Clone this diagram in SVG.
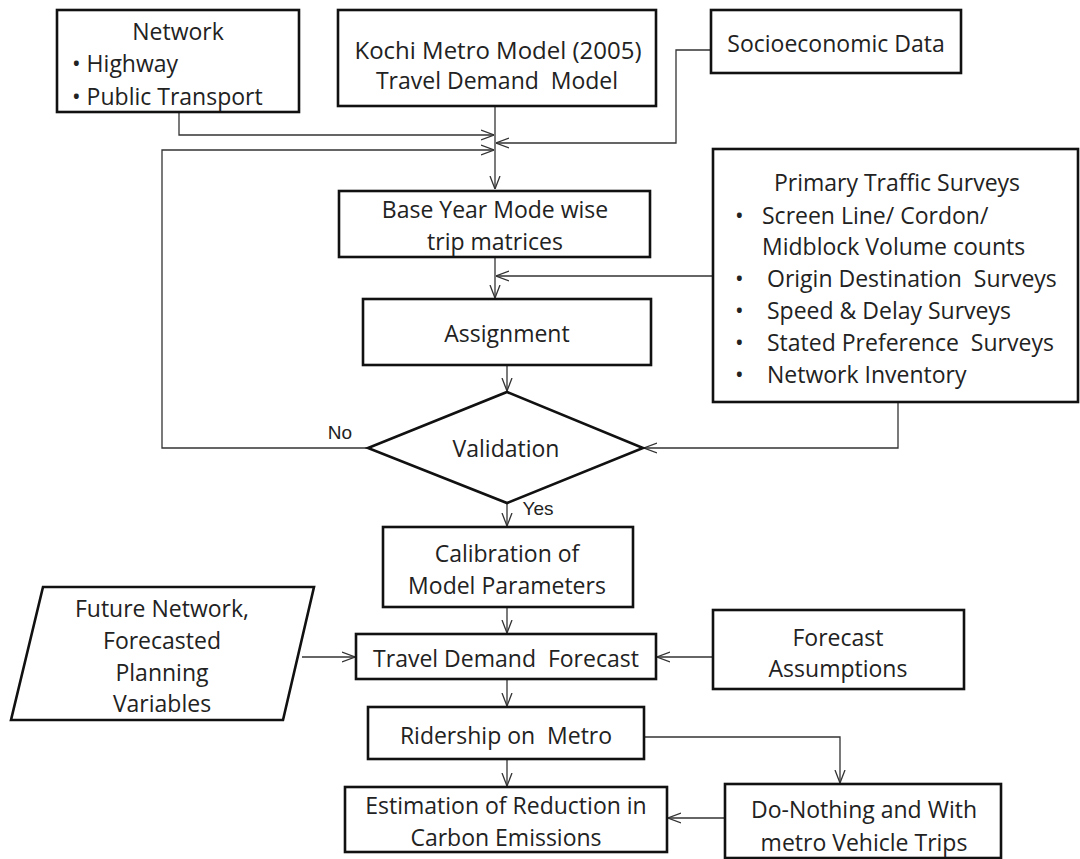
<svg xmlns="http://www.w3.org/2000/svg" width="1080" height="859" viewBox="0 0 1080 859">
<defs>
<marker id="arr" viewBox="0 0 13 12" refX="13" refY="6" markerWidth="13" markerHeight="12" markerUnits="userSpaceOnUse" orient="auto">
<path d="M0,1 L13,6 L0,11" fill="none" stroke="#333" stroke-width="1.3"/>
</marker>
</defs>
<style>
.box{fill:#fff;stroke:#111;stroke-width:2.6}
.t{font-family:"Open Sans","Liberation Sans",sans-serif;font-size:23px;fill:#222;text-anchor:middle;dominant-baseline:central}
.l{text-anchor:start}
.s{font-family:"Liberation Sans",Arial,sans-serif;font-size:19px}
.c{fill:none;stroke:#333;stroke-width:1.3}
.pre{white-space:pre}
</style>
<rect width="1080" height="859" fill="#fff"/>

<g id="connectors">
<polyline class="c" points="495,106 495,189" marker-end="url(#arr)"/>
<polyline class="c" points="179,112 179,135 494,135" marker-end="url(#arr)"/>
<polyline class="c" points="711,50 676,50 676,143 496,143" marker-end="url(#arr)"/>
<polyline class="c" points="368,448 162,448 162,150 494,150" marker-end="url(#arr)"/>
<polyline class="c" points="495,257 495,298" marker-end="url(#arr)"/>
<polyline class="c" points="713,276 496,276" marker-end="url(#arr)"/>
<polyline class="c" points="507,365 507,391" marker-end="url(#arr)"/>
<polyline class="c" points="898,402 898,448 644,448" marker-end="url(#arr)"/>
<polyline class="c" points="507,503 507,526" marker-end="url(#arr)"/>
<polyline class="c" points="507,607 507,633" marker-end="url(#arr)"/>
<polyline class="c" points="302,657 355,657" marker-end="url(#arr)"/>
<polyline class="c" points="713,657 657,657" marker-end="url(#arr)"/>
<polyline class="c" points="507,679 507,706" marker-end="url(#arr)"/>
<polyline class="c" points="644,737 840,737 840,783" marker-end="url(#arr)"/>
<polyline class="c" points="507,759 507,786" marker-end="url(#arr)"/>
<polyline class="c" points="725,818 668,818" marker-end="url(#arr)"/>
</g>

<g id="network">
<rect class="box" x="57" y="10" width="242" height="102"/>
<text class="t" x="178" y="31">Network</text>
<text class="t l" x="72" y="63">• Highway</text>
<text class="t l" x="72" y="96">• Public Transport</text>
</g>

<g id="kochi">
<rect class="box" x="338" y="10" width="318" height="96"/>
<text class="t" x="498" y="50" textLength="287" lengthAdjust="spacingAndGlyphs">Kochi Metro Model (2005)</text>
<text class="t pre" x="497" y="80">Travel Demand  Model</text>
</g>

<g id="socio">
<rect class="box" x="711" y="10" width="250" height="63"/>
<text class="t" x="836" y="43">Socioeconomic Data</text>
</g>

<g id="baseyear">
<rect class="box" x="339" y="191" width="311" height="66"/>
<text class="t" x="495" y="209">Base Year Mode wise</text>
<text class="t" x="495" y="241">trip matrices</text>
</g>

<g id="surveys">
<rect class="box" x="713" y="149" width="365" height="253"/>
<text class="t" x="897" y="182">Primary Traffic Surveys</text>
<text class="t l" x="735" y="215">•</text>
<text class="t l" x="762" y="215">Screen Line/ Cordon/</text>
<text class="t l" x="762" y="246">Midblock Volume counts</text>
<text class="t l" x="735" y="278">•</text>
<text class="t l pre" x="767" y="278">Origin Destination  Surveys</text>
<text class="t l" x="735" y="310">•</text>
<text class="t l" x="767" y="310">Speed &amp; Delay Surveys</text>
<text class="t l" x="735" y="342">•</text>
<text class="t l pre" x="767" y="342">Stated Preference  Surveys</text>
<text class="t l" x="735" y="374">•</text>
<text class="t l" x="767" y="374">Network Inventory</text>
</g>

<g id="assignment">
<rect class="box" x="363" y="299" width="288" height="66"/>
<text class="t" x="507" y="333">Assignment</text>
</g>

<g id="validation">
<polygon class="box" points="507,392 643,448 507,503 368,448"/>
<text class="t" x="506" y="448">Validation</text>
<text class="t s" x="340" y="432">No</text>
<text class="t s" x="538" y="508">Yes</text>
</g>

<g id="calibration">
<rect class="box" x="383" y="527" width="250" height="80"/>
<text class="t" x="507" y="553">Calibration of</text>
<text class="t" x="507" y="585">Model Parameters</text>
</g>

<g id="future">
<polygon class="box" points="43,587 314,587 283,720 11,720"/>
<text class="t" x="162" y="608">Future Network,</text>
<text class="t" x="162" y="640">Forecasted</text>
<text class="t" x="162" y="672">Planning</text>
<text class="t" x="162" y="703">Variables</text>
</g>

<g id="forecast">
<rect class="box" x="356" y="634" width="300" height="45"/>
<text class="t pre" x="506" y="658">Travel Demand  Forecast</text>
</g>

<g id="assumptions">
<rect class="box" x="713" y="610" width="251" height="79"/>
<text class="t" x="838" y="637">Forecast</text>
<text class="t" x="838" y="668">Assumptions</text>
</g>

<g id="ridership">
<rect class="box" x="368" y="707" width="276" height="52"/>
<text class="t pre" x="506" y="735">Ridership on  Metro</text>
</g>

<g id="estimation">
<rect class="box" x="345" y="787" width="322" height="65"/>
<text class="t" x="506" y="805">Estimation of Reduction in</text>
<text class="t" x="506" y="837">Carbon Emissions</text>
</g>

<g id="donothing">
<rect class="box" x="725" y="784" width="276" height="74"/>
<text class="t" x="864" y="809">Do-Nothing and With</text>
<text class="t" x="864" y="842">metro Vehicle Trips</text>
</g>
</svg>
